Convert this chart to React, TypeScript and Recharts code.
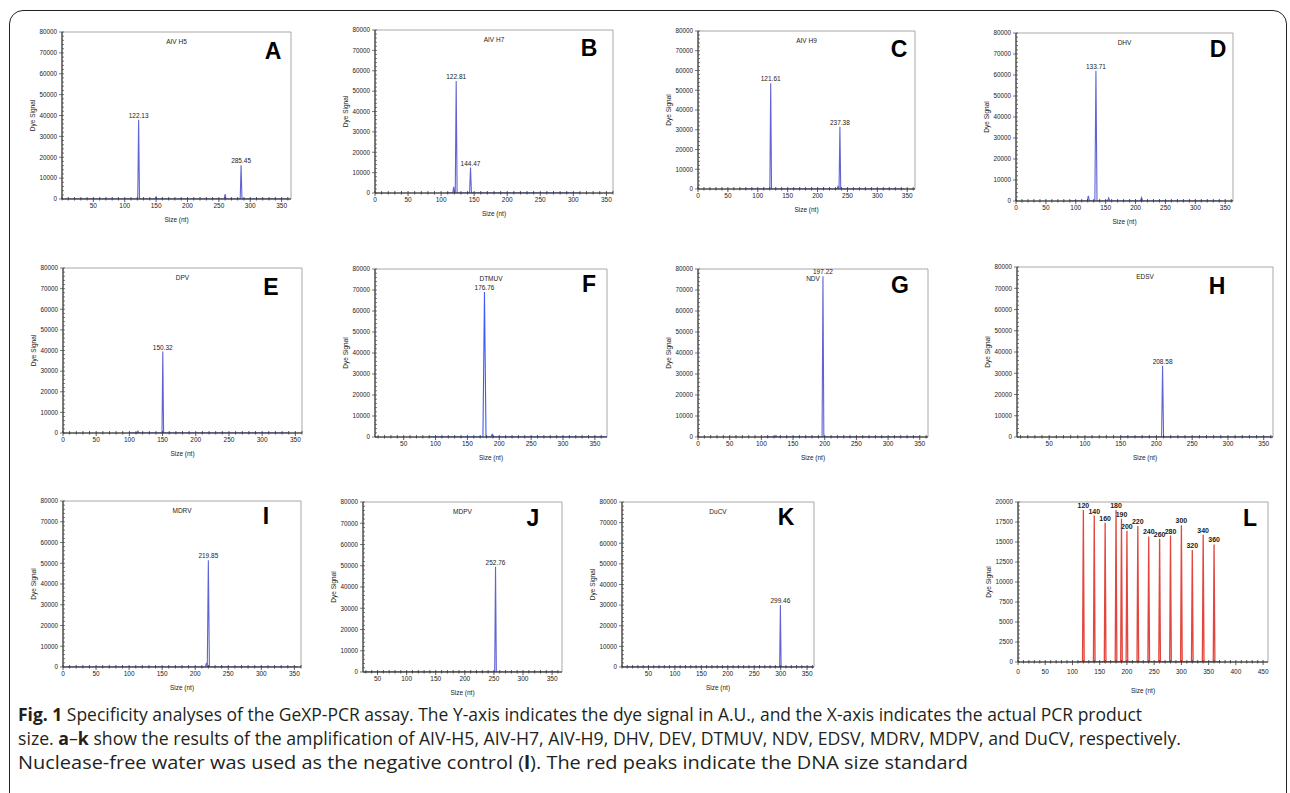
import React from 'react';
import { LineChart, Line, XAxis, YAxis, ReferenceArea, ReferenceDot } from 'recharts';

// tick labels
const sizeTicks = [0, 50, 100, 150, 200, 250, 300, 350];
const sizeTicksNoZero = [50, 100, 150, 200, 250, 300, 350];
const sizeTicksWide = [0, 50, 100, 150, 200, 250, 300, 350, 400, 450];
const signalTicks = [0, 10000, 20000, 30000, 40000, 50000, 60000, 70000, 80000];
const standardTicks = [0, 2500, 5000, 7500, 10000, 12500, 15000, 17500, 20000];

// peaks: size (nt) and dye signal
const peaksA = [{ x: 122.13, y: 38000, label: '122.13' }, { x: 285.45, y: 16200, label: '285.45' }];
const bumpsA = [{ x: 150, y: 1000 }, { x: 260, y: 2400 }];
const peaksB = [{ x: 122.81, y: 55000, label: '122.81' }, { x: 144.47, y: 12500, label: '144.47' }];
const bumpsB = [{ x: 119, y: 3000 }];
const peaksC = [{ x: 121.61, y: 53500, label: '121.61' }, { x: 237.38, y: 31500, label: '237.38' }];
const bumpsC = [{ x: 234, y: 1200 }];
const peaksD = [{ x: 133.71, y: 62000, label: '133.71' }];
const bumpsD = [{ x: 121, y: 2500 }, { x: 155, y: 1500 }, { x: 210, y: 1600 }];
const peaksE = [{ x: 150.32, y: 39500, label: '150.32' }];
const bumpsE = [{ x: 113, y: 900 }];
const peaksF = [{ x: 176.76, y: 69000, label: '176.76' }];
const bumpsF = [{ x: 189, y: 1300 }];
const peaksG = [{ x: 197.22, y: 76500, label: '197.22' }];
const bumpsG = [{ x: 123, y: 700 }];
const peaksH = [{ x: 208.58, y: 33500, label: '208.58' }];
const bumpsH: { x: number; y: number }[] = [];
const peaksI = [{ x: 219.85, y: 51500, label: '219.85' }];
const bumpsI = [{ x: 217, y: 2000 }];
const peaksJ = [{ x: 252.76, y: 49500, label: '252.76' }];
const bumpsJ: { x: number; y: number }[] = [];
const peaksK = [{ x: 299.46, y: 30000, label: '299.46' }];
const bumpsK: { x: number; y: number }[] = [];
const peaksL = [
  { x: 120, y: 19000, label: '120' },
  { x: 140, y: 18300, label: '140' },
  { x: 160, y: 17400, label: '160' },
  { x: 180, y: 19000, label: '180' },
  { x: 190, y: 17900, label: '190' },
  { x: 200, y: 16400, label: '200' },
  { x: 220, y: 17000, label: '220' },
  { x: 240, y: 15700, label: '240' },
  { x: 260, y: 15400, label: '260' },
  { x: 280, y: 15800, label: '280' },
  { x: 300, y: 17100, label: '300' },
  { x: 320, y: 14000, label: '320' },
  { x: 340, y: 15900, label: '340' },
  { x: 360, y: 14700, label: '360' },
];
const bumpsL: { x: number; y: number }[] = [];

const BLUE = '#6064d2';
const RED = '#e2473f';

type Pt = { x: number; y: number; label?: string };

const panels = [
  { id: 'A', title: 'AIV H5', peaks: peaksA, bumps: bumpsA, base: [5, 360], hw: 1.4, box: [62, 32, 291, 199], dom: [0, 365], xt: sizeTicksNoZero, letter: [273, 51] },
  { id: 'B', title: 'AIV H7', peaks: peaksB, bumps: bumpsB, base: [108, 310], hw: 1.4, box: [375, 30, 613, 193], dom: [0, 360], xt: sizeTicks, letter: [589, 48] },
  { id: 'C', title: 'AIV H9', peaks: peaksC, bumps: bumpsC, base: [70, 345], hw: 1.4, box: [698, 31, 915, 189], dom: [0, 363], xt: sizeTicks, letter: [899, 49] },
  { id: 'D', title: 'DHV', peaks: peaksD, bumps: bumpsD, base: [90, 345], hw: 1.8, box: [1016, 33, 1233, 201], dom: [0, 363], xt: sizeTicks, letter: [1218, 49] },
  { id: 'E', title: 'DPV', peaks: peaksE, bumps: bumpsE, base: [100, 340], hw: 1.2, box: [63, 268, 302, 433], dom: [0, 360], xt: sizeTicks, letter: [271, 287] },
  { id: 'F', title: 'DTMUV', peaks: peaksF, bumps: bumpsF, base: [90, 369], hw: 2.4, box: [375, 269, 607, 437], dom: [5, 369], xt: sizeTicksNoZero, letter: [589, 284], color: '#3f5cf2' },
  { id: 'G', title: 'NDV', peaks: peaksG, bumps: bumpsG, base: [105, 350], hw: 1.4, box: [698, 269, 928, 437], dom: [0, 363], xt: sizeTicks, letter: [900, 285] },
  { id: 'H', title: 'EDSV', peaks: peaksH, bumps: bumpsH, base: [150, 360], hw: 1.4, box: [1017, 267, 1273, 437], dom: [5, 363], xt: sizeTicksNoZero, letter: [1217, 286] },
  { id: 'I', title: 'MDRV', peaks: peaksI, bumps: bumpsI, base: [5, 355], hw: 1.6, box: [63, 501, 301, 667], dom: [0, 360], xt: sizeTicks, letter: [266, 516] },
  { id: 'J', title: 'MDPV', peaks: peaksJ, bumps: bumpsJ, base: [30, 360], hw: 1.4, box: [363, 502, 562, 672], dom: [25, 367], xt: sizeTicksNoZero, letter: [533, 518] },
  { id: 'K', title: 'DuCV', peaks: peaksK, bumps: bumpsK, base: [5, 360], hw: 1.4, box: [622, 502, 814, 667], dom: [0, 363], xt: sizeTicksNoZero, letter: [786, 517] },
  { id: 'L', title: '', peaks: peaksL, bumps: bumpsL, base: [110, 372], hw: 1.5, box: [1018, 502, 1268, 662], dom: [0, 459], xt: sizeTicksWide, letter: [1250, 518], color: RED, std: true },
];

function buildTrace(peaks: Pt[], bumps: Pt[], base: number[], hw: number) {
  const all = [...peaks, ...bumps].sort((a, b) => a.x - b.x);
  const pts: { x: number; y: number }[] = [{ x: base[0], y: 0 }];
  all.forEach((p) => {
    pts.push({ x: p.x - hw, y: 0 });
    pts.push({ x: p.x, y: p.y });
    pts.push({ x: p.x + hw, y: 0 });
  });
  pts.push({ x: base[1], y: 0 });
  return pts;
}

function minorTicks(lo: number, hi: number, step: number) {
  const out: number[] = [];
  for (let v = Math.ceil(lo / step) * step; v <= hi; v += step) out.push(v);
  return out;
}

const ML = 45;
const MT = 10;
const MR = 10;
const XH = 40;

function Panel({ p }: { p: any }) {
  const [l, t, r, b] = p.box;
  const w = r - l;
  const h = b - t;
  const yMax = p.std ? 20000 : 80000;
  const yMajor = p.std ? standardTicks : signalTicks;
  const trace = buildTrace(p.peaks, p.bumps, p.base, p.hw);
  const xAll = minorTicks(p.dom[0], p.dom[1], 10);
  const yAll = minorTicks(0, yMax, p.std ? 500 : 2000);
  const color = p.color || BLUE;
  const labelGap = p.std ? 28 : 20;

  const renderX = (props: any) => {
    const { x, y, payload } = props;
    const major = p.xt.includes(payload.value);
    return (
      <g>
        <line x1={x} x2={x} y1={y - 2} y2={y + (major ? 3 : 1.5)} stroke="#333" strokeWidth={0.8} />
        {major && (
          <text x={x} y={y + (p.std ? 12 : 9)} textAnchor="middle" fontSize={6.5} fill="#222">
            {payload.value}
          </text>
        )}
      </g>
    );
  };
  const renderY = (props: any) => {
    const { x, y, payload } = props;
    const major = yMajor.includes(payload.value);
    return (
      <g>
        <line x1={x - (major ? 3 : 0)} x2={x + 2} y1={y} y2={y} stroke="#444" strokeWidth={0.7} />
        {major && (
          <text x={x - 5} y={y + 2.3} textAnchor="end" fontSize={6.3} fill="#222">
            {payload.value}
          </text>
        )}
      </g>
    );
  };
  const renderXLabel = (props: any) => {
    const vb = props.viewBox || {};
    return (
      <text x={vb.x + vb.width / 2} y={vb.y + labelGap + 2.5} textAnchor="middle" fontSize={6.5} fill="#222">
        Size (nt)
      </text>
    );
  };

  return (
    <div style={{ position: 'absolute', left: l - ML, top: t - MT }}>
      <LineChart width={w + ML + MR} height={h + MT + XH} data={trace} margin={{ top: MT, right: MR, left: 0, bottom: 0 }}>
        <ReferenceArea x1={p.dom[0]} x2={p.dom[1]} y1={0} y2={yMax} fill="none" stroke="#a8a8a8" strokeWidth={1} ifOverflow="visible" />
        <XAxis
          type="number"
          dataKey="x"
          domain={p.dom}
          allowDataOverflow
          ticks={xAll}
          interval={0}
          tickSize={0}
          tickMargin={0}
          tick={renderX}
          height={XH}
          axisLine={{ stroke: '#222' }}
          label={renderXLabel}
        />
        <YAxis
          type="number"
          domain={[0, yMax]}
          allowDataOverflow
          ticks={yAll}
          interval={0}
          tickSize={0}
          tickMargin={0}
          tick={renderY}
          width={ML}
          axisLine={{ stroke: '#222' }}
          label={{ value: 'Dye Signal', angle: -90, position: 'insideLeft', offset: ML - 29, fontSize: 6.5, fill: '#222', style: { textAnchor: 'middle' } }}
        />
        <Line type="linear" dataKey="y" stroke={color} strokeWidth={p.std ? 1.3 : 1.1} dot={false} isAnimationActive={false} />
        {p.peaks.map((pk: Pt) => (
          <ReferenceDot
            key={pk.label}
            x={pk.x}
            y={pk.y}
            r={0}
            fill="none"
            stroke="none"
            label={{ value: pk.label, position: 'top', offset: 2, fontSize: p.std ? 7 : 6.5, fill: '#222', fontWeight: p.std ? 'bold' : 'normal' }}
          />
        ))}
      </LineChart>
    </div>
  );
}

export default function App() {
  return (
    <div
      style={{
        position: 'absolute',
        left: 0,
        top: 0,
        width: 1290,
        height: 793,
        overflow: 'hidden',
        background: '#fff',
        fontFamily: '"Liberation Sans", Arial, sans-serif',
      }}
    >
      <div
        style={{
          position: 'absolute',
          left: 9,
          top: 10,
          width: 1276,
          height: 900,
          border: '1.5px solid #222',
          borderRadius: 14,
        }}
      />
      {panels.map((p) => (
        <Panel key={p.id} p={p} />
      ))}
      <svg width={1290} height={793} style={{ position: 'absolute', left: 0, top: 0, pointerEvents: 'none' }}>
        {panels.map((p) => (
          <g key={p.id}>
            {p.title && (
              <text x={(p.box[0] + p.box[2]) / 2} y={p.box[1] + 12} textAnchor="middle" fontSize={6.5} fill="#222">
                {p.title}
              </text>
            )}
            <text x={p.letter[0]} y={p.letter[1] + 8.3} textAnchor="middle" fontSize={23} fontWeight="bold" fill="#000">
              {p.id}
            </text>
          </g>
        ))}
        <g fontFamily='"Open Sans", "Noto Sans", sans-serif' fontSize={17.5} fill="#231f20">
          <text x={18} y={721} textLength={1124} lengthAdjust="spacingAndGlyphs">
            <tspan fontWeight="bold">Fig. 1</tspan> Specificity analyses of the GeXP-PCR assay. The Y-axis indicates the dye signal in A.U., and the X-axis indicates the actual PCR product
          </text>
          <text x={18} y={745} textLength={1163} lengthAdjust="spacingAndGlyphs">
            size. <tspan fontWeight="bold">a</tspan>–<tspan fontWeight="bold">k</tspan> show the results of the amplification of AIV-H5, AIV-H7, AIV-H9, DHV, DEV, DTMUV, NDV, EDSV, MDRV, MDPV, and DuCV, respectively.
          </text>
          <text x={18} y={769} textLength={950} lengthAdjust="spacingAndGlyphs">
            Nuclease-free water was used as the negative control (<tspan fontWeight="bold">l</tspan>). The red peaks indicate the DNA size standard
          </text>
        </g>
      </svg>
    </div>
  );
}
